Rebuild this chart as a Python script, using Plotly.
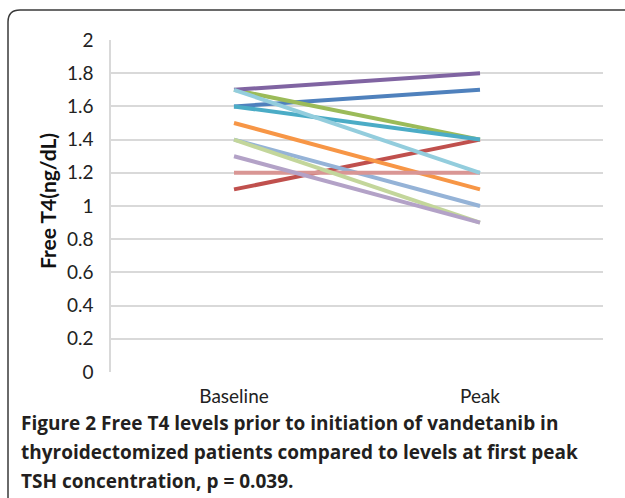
import plotly.graph_objects as go

categories = ["Baseline", "Peak"]
series_values = [
    [1.6, 1.7],
    [1.1, 1.4],
    [1.7, 1.4],
    [1.7, 1.8],
    [1.6, 1.4],
    [1.5, 1.1],
    [1.4, 1.0],
    [1.2, 1.2],
    [1.4, 0.9],
    [1.3, 0.9],
    [1.7, 1.2],
]
series_colors = ["#4F81BD", "#C0504D", "#9BBB59", "#8064A2", "#4BACC6", "#F79646",
                 "#95B3D7", "#D99694", "#C3D69B", "#B3A2C7", "#93CDDD"]
y_ticks = [0, 0.2, 0.4, 0.6, 0.8, 1, 1.2, 1.4, 1.6, 1.8, 2]
y_tick_labels = ["0", "0.2", "0.4", "0.6", "0.8", "1", "1.2", "1.4", "1.6", "1.8", "2"]
caption_lines = [
    "Figure 2 Free T4 levels prior to initiation of vandetanib in",
    "thyroidectomized patients compared to levels at first peak",
    "TSH concentration, p = 0.039.",
]

W, H = 625, 498
L, R, T, B = 111, 22, 40, 126
PW, PH = W - L - R, H - T - B

def px(x):
    return (x - L) / PW

def py(y):
    return (H - B - y) / PH

fig = go.Figure()
for vals, col in zip(series_values, series_colors):
    fig.add_trace(go.Scatter(x=categories, y=vals, mode="lines",
                             line=dict(color=col, width=4), showlegend=False))

axis_font = dict(family="Lato, Open Sans, sans-serif", size=19, color="#222")
fig.update_layout(
    width=W, height=H,
    margin=dict(l=L, r=R, t=T, b=B),
    paper_bgcolor="white", plot_bgcolor="white",
    xaxis=dict(type="category", range=[-0.5, 1.5], showgrid=False, zeroline=False,
               showline=False, ticks="", tickfont=axis_font, ticklabelstandoff=11),
    yaxis=dict(range=[0, 2], tickvals=y_ticks, ticktext=y_tick_labels,
               showgrid=True, gridcolor="#d9d9d9", gridwidth=1.5, zeroline=False,
               showline=True, linecolor="#d9d9d9", linewidth=1.5,
               ticks="", tickfont=axis_font, ticklabelstandoff=12),
)

# y-axis title
fig.add_annotation(text="<b>Free T4(ng/dL)</b>", xref="paper", yref="paper",
                   x=px(47), y=py(201), textangle=-90, showarrow=False,
                   xanchor="center", yanchor="middle",
                   font=dict(family="Lato, Open Sans, sans-serif", size=21, color="#111"))

# caption
for i, line in enumerate(caption_lines):
    fig.add_annotation(text=line, xref="paper", yref="paper",
                       x=px(19), y=py(423 + i * 29), showarrow=False,
                       xanchor="left", yanchor="middle", align="left",
                       font=dict(family="Open Sans, sans-serif", size=19, color="#231f20",
                                 weight=700))

# rounded frame
x0, x1 = px(8), px(640)
y0, y1 = py(10), py(515)
dx, dy = 12 / PW, 12 / PH
path = (f"M {x0},{y1} L {x0},{y0 - dy} Q {x0},{y0} {x0 + dx},{y0} L {x1},{y0}")
fig.add_shape(type="path", path=path, xref="paper", yref="paper",
              line=dict(color="#3a3a3a", width=1.5))

fig.write_html("out.html", config={"displayModeBar": False},
               post_script="document.body.style.margin='0';document.body.style.overflow='hidden';")
